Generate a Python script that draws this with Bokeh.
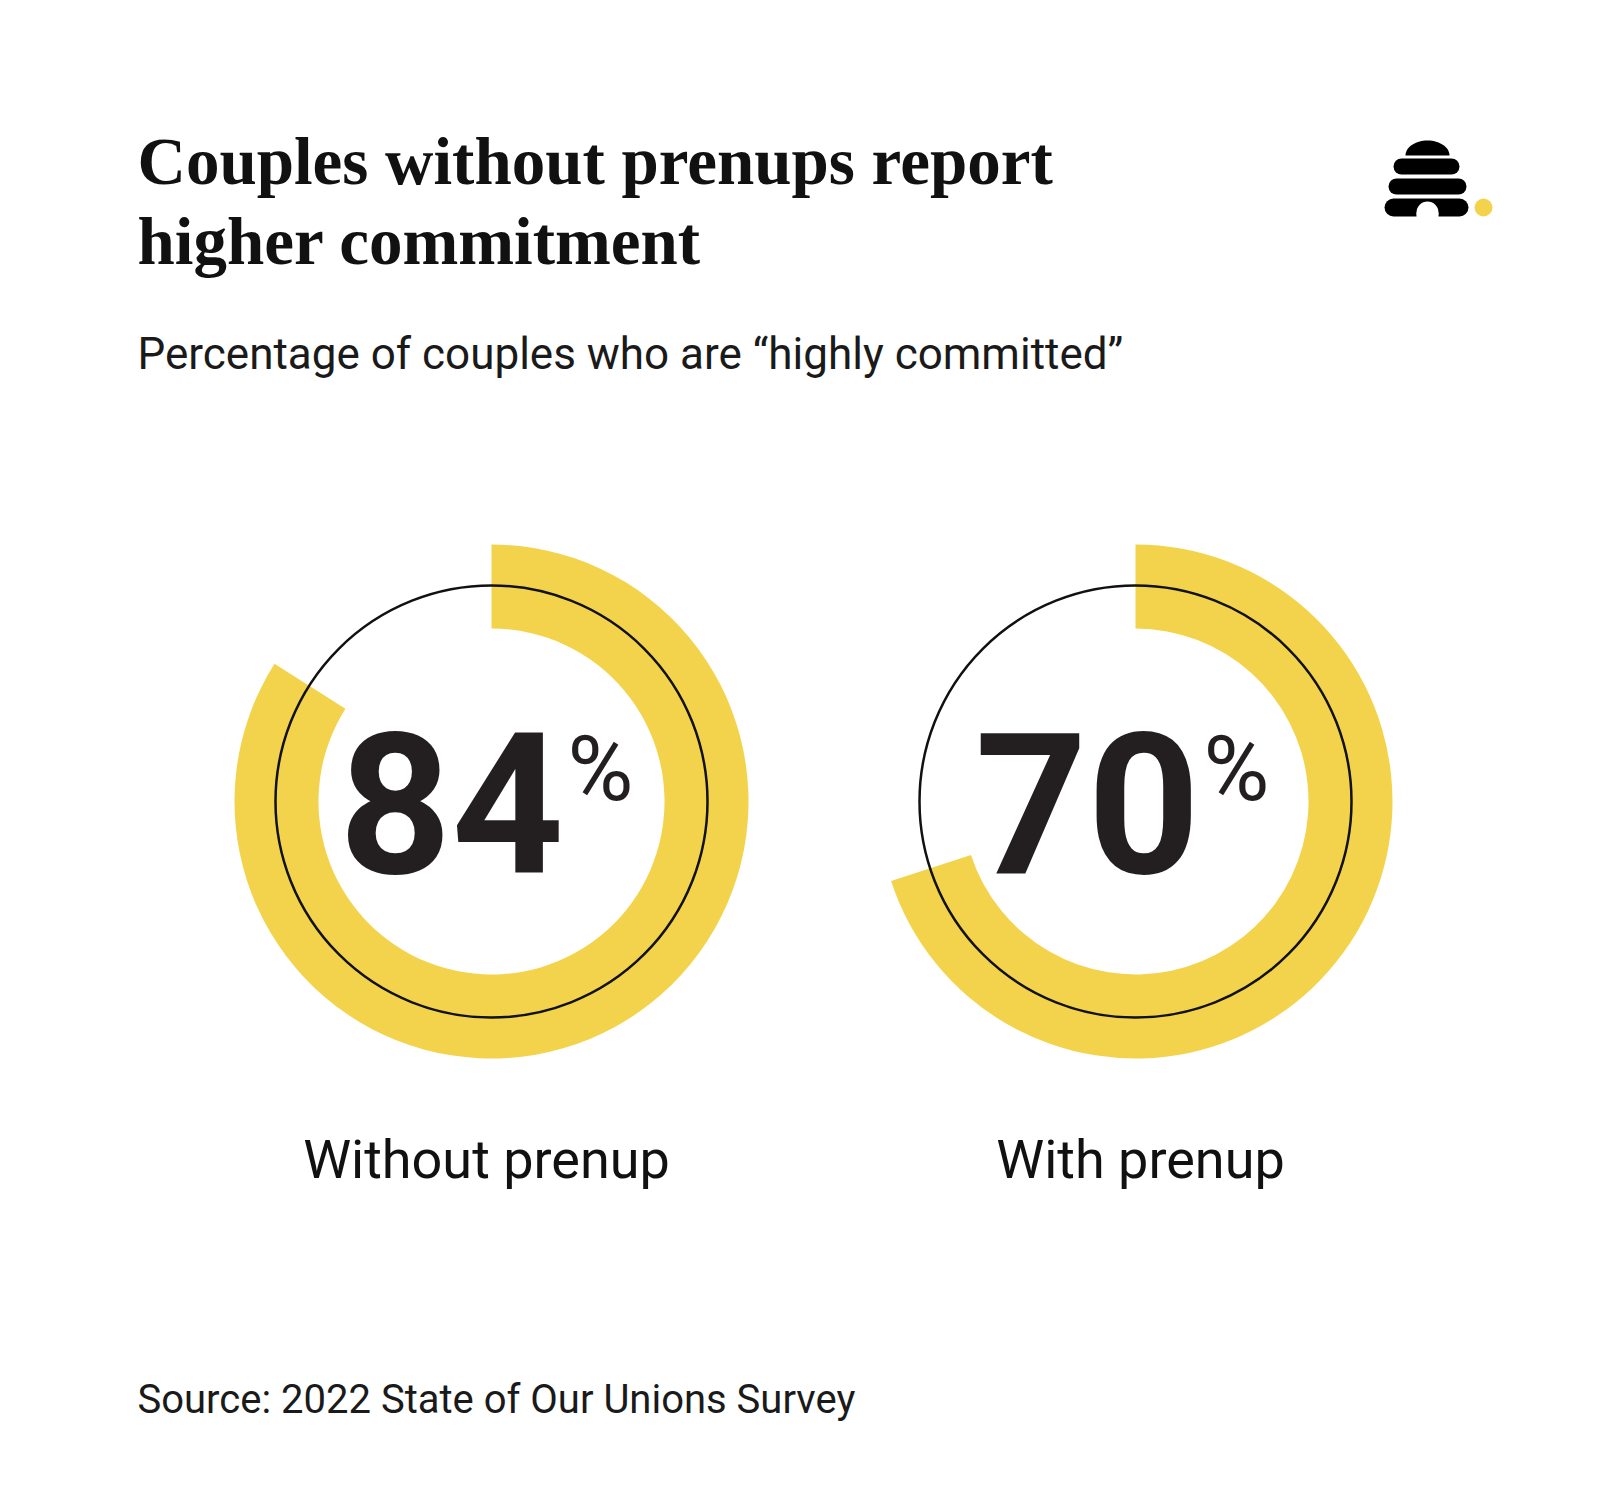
import numpy as np
from bokeh.plotting import figure
from bokeh.models import Range1d
from bokeh.core.properties import value
from bokeh.embed import file_html
from bokeh.resources import INLINE

# ---------------- data ----------------
categories = ["Without prenup", "With prenup"]
values = [84, 70]
title_lines = ["Couples without prenups report", "higher commitment"]
subtitle = "Percentage of couples who are \u201chighly committed\u201d"
source = "Source: 2022 State of Our Unions Survey"

# ---------------- layout ----------------
W, H = 1606, 1480
def X(px):
    return px
def Y(py):
    return H - py
def TB(py, size, k=0.40):
    # anchor that puts the text baseline at page y = py
    return Y(py - k * size)

YELLOW = "#F4D34C"
INK = "#111111"
DIGIT = "#231f20"

p = figure(width=W, height=H, x_range=Range1d(0, W), y_range=Range1d(0, H),
           output_backend="svg", toolbar_location=None, min_border=0)
p.axis.visible = False
p.grid.visible = False
p.outline_line_color = None
p.background_fill_color = "white"
p.border_fill_color = "white"

# titles
ts = 67
p.text(x=[X(137)] * 2, y=[TB(185, ts, 0.36), TB(265, ts, 0.36)], text=title_lines,
       text_font=value("Liberation Serif"), text_font_style="bold",
       text_font_size=f"{ts}px", text_color=INK, text_baseline="alphabetic",
       text_align="left")
ss = 44
p.text(x=[X(137)], y=[TB(371, ss)], text=[subtitle], text_font=value("Roboto"),
       text_font_size=f"{ss}px", text_color="#1a1a1a", text_baseline="alphabetic")
cs = 40
p.text(x=[X(137)], y=[TB(1415, cs)], text=[source], text_font=value("Roboto"),
       text_font_size=f"{cs}px", text_color="#1a1a1a", text_baseline="alphabetic")

# donuts
cx = [X(491), X(1135)]
cy = [Y(801), Y(801)]
start = [np.pi / 2] * len(values)
end = [np.pi / 2 - 2 * np.pi * v / 100 for v in values]
p.annular_wedge(x=cx, y=cy, inner_radius=173, outer_radius=257,
                start_angle=start, end_angle=end, direction="clock",
                fill_color=YELLOW, line_color=None)
p.circle(x=cx, y=cy, radius=216, fill_color=None, line_color=INK, line_width=2.5)

# big numbers (per-donut horizontal offsets of the number and the % sign)
num_dx = [-40, -48]
pct_dx = [76, 68]
lab_dx = [-5, 5]
ds = 196
p.text(x=[c + d for c, d in zip(cx, num_dx)], y=[TB(880, ds)] * 2,
       text=[str(v) for v in values],
       text_font=value("Roboto"), text_font_style="bold",
       text_font_size=f"{ds}px", text_color=DIGIT, text_align="center",
       text_baseline="alphabetic")
ps = 90
p.text(x=[c + d for c, d in zip(cx, pct_dx)], y=[TB(805, ps)] * 2, text=["%"] * 2,
       text_font=value("Roboto"), text_font_size=f"{ps}px",
       text_color=DIGIT, text_align="left", text_baseline="alphabetic")

# category labels
ls = 54
p.text(x=[c + d for c, d in zip(cx, lab_dx)], y=[TB(1181, ls)] * 2, text=categories,
       text_font=value("Roboto"), text_font_size=f"{ls}px",
       text_color=INK, text_align="center", text_baseline="alphabetic")

# ---------------- logo (beehive) ----------------
t = np.linspace(0, np.pi, 40)
dome_x = X(1427) + 22 * np.cos(t)
dome_y = Y(155) + 15 * np.sin(t)
p.patch(x=list(dome_x), y=list(dome_y), fill_color="black", line_color=None)
p.segment(x0=[X(1401), X(1396), X(1393)], y0=[Y(166), Y(186), Y(207)],
          x1=[X(1451), X(1458), X(1459)], y1=[Y(166), Y(186), Y(207)],
          line_color="black", line_width=[16, 16, 18], line_cap="round")
p.circle(x=[X(1427)], y=[Y(212)], radius=11, fill_color="white", line_color=None)
p.quad(left=[X(1416)], right=[X(1438)], bottom=[Y(218)], top=[Y(212)],
       fill_color="white", line_color=None)
p.circle(x=[X(1483)], y=[Y(207)], radius=9, fill_color=YELLOW, line_color=None)

open("out.html", "w").write(file_html(p, INLINE))
